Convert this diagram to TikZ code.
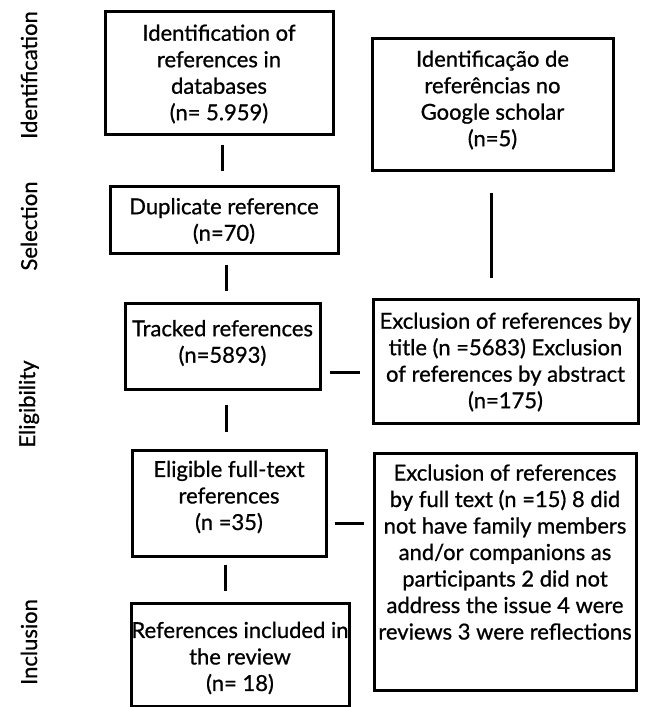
\documentclass[tikz,border=0pt]{standalone}
\usepackage{fontspec}
\setmainfont{Lato}[FakeBold=0.8]
\usetikzlibrary{calc}
\begin{document}
\begin{tikzpicture}[x=1pt,y=-1pt,
  box/.style={draw, line width=3pt, inner sep=0pt},
  txt/.style={align=center, inner sep=0pt, font=\fontsize{22}{26.5}\selectfont},
  lbl/.style={inner sep=0pt, rotate=90, font=\fontsize{22}{26.5}\selectfont},
  conn/.style={line width=3pt}]
\useasboundingbox (0,0) rectangle (647,707);
% boxes
\node[box, minimum width=228pt, minimum height=123pt] (b1) at (219,72.5) {};
\node[box, minimum width=241pt, minimum height=132pt] (goog) at (492.5,104) {};
\node[box, minimum width=228pt, minimum height=67pt] (dup) at (224,219.5) {};
\node[box, minimum width=195pt, minimum height=86pt] (trk) at (222.5,346) {};
\node[box, minimum width=265pt, minimum height=124pt] (ex1) at (505.5,361) {};
\node[box, minimum width=194pt, minimum height=106pt] (elig) at (229,503) {};
\node[box, minimum width=262pt, minimum height=237pt] (ex2) at (505,571.5) {};
\node[box, minimum width=218pt, minimum height=103pt] (refs) at (240,654.5) {};
% texts
\node[txt] (t1) at (219,74) {Identification of\\references in\\databases\\(n= 5.959)};
\node[txt] (tg) at (492.5,100) {Identificação de\\referências no\\Google scholar\\(n=5)};
\node[txt] (td) at (224,221) {Duplicate reference\\(n=70)};
\node[txt] (tt) at (222.5,343) {Tracked references\\(n=5893)};
\node[txt] (te1) at (505.5,362) {Exclusion of references by\\title (n =5683) Exclusion\\of references by abstract\\(n=175)};
\node[txt] (tel) at (229,497) {Eligible full-text\\references\\(n =35)};
\node[txt] (te2) at (505,552) {Exclusion of references\\by full text (n =15) 8 did\\not have family members\\and/or companions as\\participants 2 did not\\address the issue 4 were\\reviews 3 were reflections};
\node[txt] (tr) at (240,658) {References included in\\the review\\(n= 18)};
% side labels
\node[lbl] (l1) at (29,75) {Identification};
\node[lbl] (l2) at (29,226) {Selection};
\node[lbl] (l3) at (29,404) {Eligibility};
\node[lbl] (l4) at (29,642) {Inclusion};
% connectors
\draw[conn] ($(b1.south)+(3,9)$) -- ($(dup.north)+(-2,-14)$);
\draw[conn] ($(goog.south)+(-1.5,21)$) -- ($(ex1.north)+(-14.5,-20)$);
\draw[conn] ($(dup.south)+(2,10)$) -- ($(trk.north)+(3.5,-11)$);
\draw[conn] ($(trk.east)+(8,26)$) -- ($(ex1.west)+(-12,11)$);
\draw[conn] ($(trk.south)+(3.5,14)$) -- ($(elig.north)+(-3,-17)$);
\draw[conn] ($(elig.east)+(7,20)$) -- ($(ex2.west)+(-9,-48.5)$);
\draw[conn] ($(elig.south)+(-4,7)$) -- ($(refs.north)+(-15,-11)$);
\end{tikzpicture}
\end{document}
